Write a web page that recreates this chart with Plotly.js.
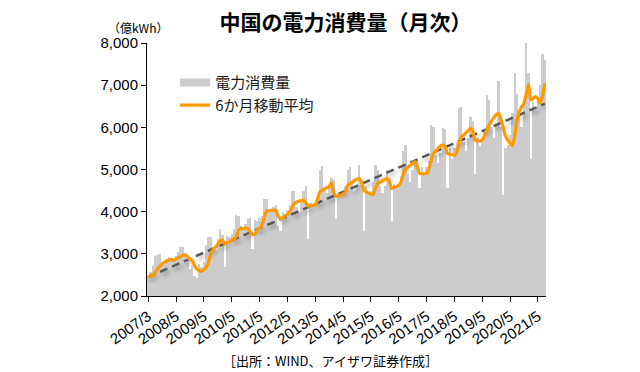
<!DOCTYPE html>
<html>
<head>
<meta charset="utf-8">
<script src="https://cdn.plot.ly/plotly-3.0.1.min.js"></script>
<style>
html,body{margin:0;padding:0;background:#fff;}
#chart{width:640px;height:372px;}
</style>
</head>
<body>
<div id="chart"></div>
<script>
// ---- data (億kWh) ----
const v2007 = [2480, 2560, 2700, 2950, 2980, 2990, 2800, 2760, 2850, 2920]; // 3-12
const v2008 = [2900, 2860, 2960, 3050, 3170, 3160, 2950, 2820, 2650, 2700]; // 3-12
const v2009 = [2480, 2420, 2750, 2680, 2800, 3200, 3410, 3400, 3160, 3100, 3350, 3600];
const v2010 = [3450, 2680, 3420, 3400, 3480, 3600, 3910, 3900, 3650, 3630, 3700, 3830];
const v2011 = [3850, 3120, 3800, 3790, 3850, 3900, 4310, 4300, 4050, 4030, 4100, 4150];
const v2012 = [3650, 3550, 4000, 3900, 4050, 4150, 4480, 4500, 4100, 4000, 4200, 4500];
const v2013 = [4600, 3360, 4200, 4100, 4200, 4300, 5000, 5080, 4550, 4450, 4550, 4800];
const v2014 = [4750, 3830, 4450, 4350, 4450, 4600, 5000, 5060, 4700, 4500, 4600, 5100];
const v2015 = [4700, 3550, 4600, 4450, 4500, 4700, 5100, 5000, 4600, 4450, 4600, 4980];
const v2016 = [4800, 3790, 4650, 4550, 4650, 4850, 5450, 5580, 4900, 4700, 5000, 5220];
const v2017 = [5200, 4550, 5050, 4900, 5050, 5200, 6050, 6000, 5350, 5150, 5400, 5980];
const v2018 = [5950, 4550, 5500, 5250, 5500, 5650, 6450, 6490, 5650, 5450, 5750, 6250];
const v2019 = [6150, 4900, 5750, 5550, 5650, 5900, 6770, 6650, 6000, 5750, 6100, 7100];
const v2020 = [6000, 4390, 5500, 5570, 5810, 6350, 7285, 6800, 6300, 6000, 6600, 8000];
const v2021 = [7300, 5260, 6600, 6400, 6700, 7000, 7750, 7600]; // 1-8

// year, first month of that year's block, values
const yearBlocks = [
  [2007, 3, v2007], [2008, 3, v2008], [2009, 1, v2009], [2010, 1, v2010],
  [2011, 1, v2011], [2012, 1, v2012], [2013, 1, v2013], [2014, 1, v2014],
  [2015, 1, v2015], [2016, 1, v2016], [2017, 1, v2017], [2018, 1, v2018],
  [2019, 1, v2019], [2020, 1, v2020], [2021, 1, v2021]
];

// 6-month moving average line
const ma6 = [
  2460,2470,2480,2560,2640,2700,2760,2800,2830,2857,
  2860,2850,2880,2905,2940,2970,2976,2930,2870,2840,
  2720,2640,2600,2586,2620,2680,2800,3000,3100,3157,
  3230,3300,3333,3238,3260,3280,3320,3350,3400,3560,
  3600,3600,3610,3595,3520,3460,3470,3560,3610,3674,
  3850,4007,4020,4030,4031,4030,3900,3833,3850,3900,
  3940,3980,4100,4190,4230,4250,4260,4269,4210,4133,
  4140,4150,4160,4300,4467,4500,4540,4570,4590,4681,
  4450,4364,4370,4390,4420,4470,4620,4667,4700,4740,
  4770,4786,4700,4507,4470,4440,4420,4405,4560,4667,
  4700,4730,4760,4786,4720,4548,4580,4600,4626,4700,
  4900,5000,5060,5100,5150,5181,5080,4905,4900,4900,
  4905,5000,5221,5381,5440,5500,5560,5579,5540,5381,
  5360,5350,5340,5400,5600,5776,5820,5870,5920,5976,
  5900,5698,5680,5670,5700,5800,5936,6050,6150,6230,
  6300,6333,6200,6014,5800,5700,5620,5579,5800,6150,
  6373,6480,6571,6800,7007,6650,6690,6730,6680,6571,
  6750,7048
];

// linear trend line end values
const trendCats = ['2007/3', '2021/8'];
const trendVals = [2450, 6560];

const tickCats = ['2007/3','2008/5','2009/5','2010/5','2011/5','2012/5','2013/5',
  '2014/5','2015/5','2016/5','2017/5','2018/5','2019/5','2020/5','2021/5'];

// ---- build category list / values ----
const cats = [], bars = [];
yearBlocks.forEach(([yr, m0, vals]) => {
  vals.forEach((v, k) => { cats.push(yr + '/' + (m0 + k)); bars.push(v); });
});

const FONT = 'Liberation Sans, Arial, "Noto Sans CJK JP", sans-serif';
const JFONT = '"Noto Sans CJK JP", "Liberation Sans", sans-serif';

const traces = [
  { type: 'bar', x: cats, y: bars, marker: { color: '#cccccc', line: { width: 0 } },
    showlegend: false, hoverinfo: 'skip' },
  { type: 'scatter', mode: 'lines', x: [cats[0]], y: [bars[0]], name: '電力消費量',
    line: { color: '#cccccc', width: 8 }, hoverinfo: 'skip' },
  { type: 'scatter', mode: 'lines', x: trendCats, y: trendVals, showlegend: false,
    line: { color: '#595959', width: 2.5, dash: '8px,5px' }, hoverinfo: 'skip' },
  { type: 'scatter', mode: 'lines', x: cats, y: ma6, name: '6か月移動平均',
    line: { color: '#ff9900', width: 3.2, shape: 'spline', smoothing: 0.8 }, hoverinfo: 'skip' }
];

const layout = {
  width: 640, height: 372,
  margin: { l: 147, r: 94, t: 43, b: 76 },
  paper_bgcolor: '#ffffff', plot_bgcolor: '#ffffff',
  bargap: 0,
  showlegend: true,
  font: { family: FONT, color: '#000', size: 15 },
  title: { text: '中国の電力消費量（月次）', font: { family: JFONT, size: 21, color: '#000', weight: 'bold' },
           x: 0.54, xref: 'container', xanchor: 'center', y: 0.94, yref: 'container', yanchor: 'middle' },
  xaxis: {
    type: 'category', range: [-0.5, cats.length - 0.5],
    tickmode: 'array', tickvals: tickCats, ticktext: tickCats,
    tickangle: -35, tickfont: { family: FONT, size: 15, color: '#000' },
    ticks: 'outside', ticklen: 5, tickcolor: '#000',
    showline: true, linecolor: '#000', linewidth: 1,
    showgrid: false, zeroline: false, fixedrange: true
  },
  yaxis: {
    range: [2000, 8000], dtick: 1000, tickformat: ',d',
    tickfont: { family: FONT, size: 15, color: '#000' },
    ticks: 'outside', ticklen: 5, tickcolor: '#000',
    showline: true, linecolor: '#000', linewidth: 1,
    showgrid: false, zeroline: false, fixedrange: true
  },
  legend: {
    x: 0.0705, y: 0.908, xanchor: 'left', yanchor: 'top',
    bgcolor: 'rgba(0,0,0,0)', borderwidth: 0,
    font: { family: JFONT, size: 15, color: '#1a1a1a' },
    tracegroupgap: 0
  },
  annotations: [
    { text: '（億kWh）', xref: 'paper', yref: 'paper', x: -0.023, y: 1.06,
      xanchor: 'center', yanchor: 'middle', showarrow: false,
      font: { family: JFONT, size: 12, color: '#000' } },
    { text: '［出所：WIND、アイザワ証券作成］', xref: 'paper', yref: 'paper', x: 0.46, y: -0.255,
      xanchor: 'center', yanchor: 'middle', showarrow: false,
      font: { family: JFONT, size: 13, color: '#000' } }
  ]
};

Plotly.newPlot('chart', traces, layout, { displayModeBar: false, staticPlot: true }).then(() => {
  const tr = document.querySelectorAll('.scatterlayer .trace');
  if (tr[1]) {
    const p = tr[1].querySelector('path.js-line');
    if (p) p.style.filter = 'drop-shadow(2px 3px 2px rgba(0,0,0,0.35))';
  }
});
</script>
</body>
</html>
